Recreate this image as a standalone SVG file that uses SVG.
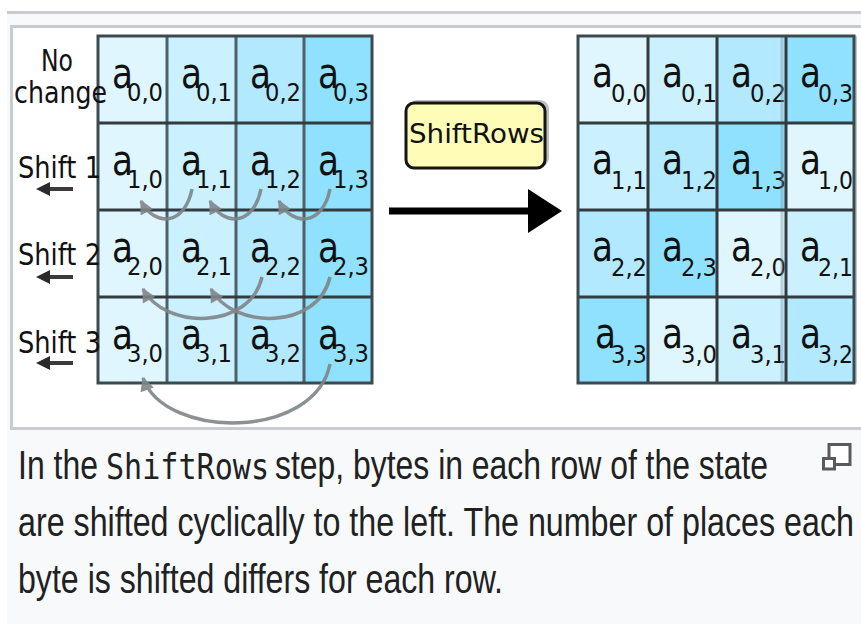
<svg xmlns="http://www.w3.org/2000/svg" width="861" height="624" viewBox="0 0 861 624">
<style>
.c0{fill:#e0f6fe}.c1{fill:#cbf0fe}.c2{fill:#b3e9fe}.c3{fill:#8fe1fd}
.a{font-family:"DejaVu Sans",sans-serif;font-size:42px;fill:#111}
.s{font-family:"DejaVu Sans",sans-serif;font-size:24px;fill:#111}
.lbl{font-family:"DejaVu Sans",sans-serif;font-size:31px;fill:#111}
.hl{stroke:#333b3e;stroke-width:3}
.vl{stroke:#4c6168;stroke-width:3}
.cap{font-family:"Liberation Sans",Arial,sans-serif;font-size:41px;fill:#202122}
.mono{font-family:"DejaVu Sans Mono","Liberation Mono",monospace;font-size:36px;fill:#202122}
.curve{fill:none;stroke:#7f8588;stroke-width:3.5;opacity:0.9;marker-end:url(#gh)}
</style>
<defs>
<marker id="gh" viewBox="0 0 10 10" refX="9" refY="5" markerWidth="15" markerHeight="14" markerUnits="userSpaceOnUse" orient="auto">
<path d="M0,0 L10,5 L0,10 z" fill="#7f8588"/>
</marker>
</defs>
<rect width="861" height="624" fill="#fff"/>
<rect x="7" y="11" width="860" height="620" fill="#f8f9fa"/>
<line x1="7" y1="12.5" x2="861" y2="12.5" stroke="#c8ccd1" stroke-width="3"/>
<rect x="11.5" y="26.5" width="870" height="402" fill="#fff" stroke="#c8ccd1" stroke-width="3"/>

<g id="left-grid">
<g id="L00"><rect class="c0" x="98" y="36" width="69" height="87"/><text class="a" x="112" y="88" textLength="21" lengthAdjust="spacingAndGlyphs">a</text><text class="s" x="127" y="101" textLength="36" lengthAdjust="spacingAndGlyphs">0,0</text></g>
<g id="L01"><rect class="c1" x="167" y="36" width="69" height="87"/><text class="a" x="181" y="88" textLength="21" lengthAdjust="spacingAndGlyphs">a</text><text class="s" x="196" y="101" textLength="36" lengthAdjust="spacingAndGlyphs">0,1</text></g>
<g id="L02"><rect class="c2" x="236" y="36" width="68" height="87"/><text class="a" x="250" y="88" textLength="21" lengthAdjust="spacingAndGlyphs">a</text><text class="s" x="265" y="101" textLength="36" lengthAdjust="spacingAndGlyphs">0,2</text></g>
<g id="L03"><rect class="c3" x="304" y="36" width="68" height="87"/><text class="a" x="318" y="88" textLength="21" lengthAdjust="spacingAndGlyphs">a</text><text class="s" x="333" y="101" textLength="36" lengthAdjust="spacingAndGlyphs">0,3</text></g>
<g id="L10"><rect class="c0" x="98" y="123" width="69" height="87"/><text class="a" x="112" y="175" textLength="21" lengthAdjust="spacingAndGlyphs">a</text><text class="s" x="127" y="188" textLength="36" lengthAdjust="spacingAndGlyphs">1,0</text></g>
<g id="L11"><rect class="c1" x="167" y="123" width="69" height="87"/><text class="a" x="181" y="175" textLength="21" lengthAdjust="spacingAndGlyphs">a</text><text class="s" x="196" y="188" textLength="36" lengthAdjust="spacingAndGlyphs">1,1</text></g>
<g id="L12"><rect class="c2" x="236" y="123" width="68" height="87"/><text class="a" x="250" y="175" textLength="21" lengthAdjust="spacingAndGlyphs">a</text><text class="s" x="265" y="188" textLength="36" lengthAdjust="spacingAndGlyphs">1,2</text></g>
<g id="L13"><rect class="c3" x="304" y="123" width="68" height="87"/><text class="a" x="318" y="175" textLength="21" lengthAdjust="spacingAndGlyphs">a</text><text class="s" x="333" y="188" textLength="36" lengthAdjust="spacingAndGlyphs">1,3</text></g>
<g id="L20"><rect class="c0" x="98" y="210" width="69" height="87"/><text class="a" x="112" y="262" textLength="21" lengthAdjust="spacingAndGlyphs">a</text><text class="s" x="127" y="275" textLength="36" lengthAdjust="spacingAndGlyphs">2,0</text></g>
<g id="L21"><rect class="c1" x="167" y="210" width="69" height="87"/><text class="a" x="181" y="262" textLength="21" lengthAdjust="spacingAndGlyphs">a</text><text class="s" x="196" y="275" textLength="36" lengthAdjust="spacingAndGlyphs">2,1</text></g>
<g id="L22"><rect class="c2" x="236" y="210" width="68" height="87"/><text class="a" x="250" y="262" textLength="21" lengthAdjust="spacingAndGlyphs">a</text><text class="s" x="265" y="275" textLength="36" lengthAdjust="spacingAndGlyphs">2,2</text></g>
<g id="L23"><rect class="c3" x="304" y="210" width="68" height="87"/><text class="a" x="318" y="262" textLength="21" lengthAdjust="spacingAndGlyphs">a</text><text class="s" x="333" y="275" textLength="36" lengthAdjust="spacingAndGlyphs">2,3</text></g>
<g id="L30"><rect class="c0" x="98" y="297" width="69" height="86"/><text class="a" x="112" y="349" textLength="21" lengthAdjust="spacingAndGlyphs">a</text><text class="s" x="127" y="362" textLength="36" lengthAdjust="spacingAndGlyphs">3,0</text></g>
<g id="L31"><rect class="c1" x="167" y="297" width="69" height="86"/><text class="a" x="181" y="349" textLength="21" lengthAdjust="spacingAndGlyphs">a</text><text class="s" x="196" y="362" textLength="36" lengthAdjust="spacingAndGlyphs">3,1</text></g>
<g id="L32"><rect class="c2" x="236" y="297" width="68" height="86"/><text class="a" x="250" y="349" textLength="21" lengthAdjust="spacingAndGlyphs">a</text><text class="s" x="265" y="362" textLength="36" lengthAdjust="spacingAndGlyphs">3,2</text></g>
<g id="L33"><rect class="c3" x="304" y="297" width="68" height="86"/><text class="a" x="318" y="349" textLength="21" lengthAdjust="spacingAndGlyphs">a</text><text class="s" x="333" y="362" textLength="36" lengthAdjust="spacingAndGlyphs">3,3</text></g>
<g id="left-lines">
<line class="vl" x1="167" y1="36" x2="167" y2="383"/><line class="vl" x1="236" y1="36" x2="236" y2="383"/><line class="vl" x1="304" y1="36" x2="304" y2="383"/>
<line class="hl" x1="98" y1="123" x2="372" y2="123"/><line class="hl" x1="98" y1="210" x2="372" y2="210"/><line class="hl" x1="98" y1="297" x2="372" y2="297"/>
<rect x="98" y="36" width="274" height="347" fill="none" stroke="#3c4a4f" stroke-width="3"/>
</g>
</g>

<g id="row-labels">
<g id="lbl-nochange"><text class="lbl" x="41" y="71" textLength="32" lengthAdjust="spacingAndGlyphs">No</text><text class="lbl" x="14" y="103" textLength="93" lengthAdjust="spacingAndGlyphs">change</text></g>
<g id="lbl-shift1"><text class="lbl" x="18" y="178" textLength="83" lengthAdjust="spacingAndGlyphs">Shift 1</text></g>
<g id="lbl-shift2"><text class="lbl" x="18" y="265" textLength="83" lengthAdjust="spacingAndGlyphs">Shift 2</text></g>
<g id="lbl-shift3"><text class="lbl" x="18" y="353" textLength="83" lengthAdjust="spacingAndGlyphs">Shift 3</text></g>
</g>

<g id="shiftrows-box">
<rect x="408" y="100" width="141" height="67" rx="9" fill="#8a8a8a" opacity="0.55"/>
<rect x="406" y="103" width="139" height="65" rx="8" fill="#fefcb6"/>
<text x="409" y="143" font-family="DejaVu Sans,sans-serif" font-size="27" fill="#111" textLength="135" lengthAdjust="spacingAndGlyphs">ShiftRows</text>
<rect x="406" y="103" width="139" height="65" rx="8" fill="none" stroke="#151515" stroke-width="3"/>
</g>

<g id="right-grid">
<g id="R00"><rect class="c0" x="578" y="36" width="70" height="87"/><text class="a" x="592" y="87" textLength="21" lengthAdjust="spacingAndGlyphs">a</text><text class="s" x="611" y="102" textLength="36" lengthAdjust="spacingAndGlyphs">0,0</text></g>
<g id="R01"><rect class="c1" x="648" y="36" width="69" height="87"/><text class="a" x="662" y="87" textLength="21" lengthAdjust="spacingAndGlyphs">a</text><text class="s" x="681" y="102" textLength="36" lengthAdjust="spacingAndGlyphs">0,1</text></g>
<g id="R02"><rect class="c2" x="717" y="36" width="69" height="87"/><text class="a" x="731" y="87" textLength="21" lengthAdjust="spacingAndGlyphs">a</text><text class="s" x="750" y="102" textLength="36" lengthAdjust="spacingAndGlyphs">0,2</text></g>
<g id="R03"><rect class="c3" x="786" y="36" width="68" height="87"/><text class="a" x="800" y="87" textLength="21" lengthAdjust="spacingAndGlyphs">a</text><text class="s" x="818" y="102" textLength="35" lengthAdjust="spacingAndGlyphs">0,3</text></g>
<g id="R10"><rect class="c1" x="578" y="123" width="70" height="87"/><text class="a" x="592" y="174" textLength="21" lengthAdjust="spacingAndGlyphs">a</text><text class="s" x="611" y="189" textLength="36" lengthAdjust="spacingAndGlyphs">1,1</text></g>
<g id="R11"><rect class="c2" x="648" y="123" width="69" height="87"/><text class="a" x="662" y="174" textLength="21" lengthAdjust="spacingAndGlyphs">a</text><text class="s" x="681" y="189" textLength="36" lengthAdjust="spacingAndGlyphs">1,2</text></g>
<g id="R12"><rect class="c3" x="717" y="123" width="69" height="87"/><text class="a" x="731" y="174" textLength="21" lengthAdjust="spacingAndGlyphs">a</text><text class="s" x="750" y="189" textLength="36" lengthAdjust="spacingAndGlyphs">1,3</text></g>
<g id="R13"><rect class="c0" x="786" y="123" width="68" height="87"/><text class="a" x="800" y="174" textLength="21" lengthAdjust="spacingAndGlyphs">a</text><text class="s" x="818" y="189" textLength="35" lengthAdjust="spacingAndGlyphs">1,0</text></g>
<g id="R20"><rect class="c2" x="578" y="210" width="70" height="87"/><text class="a" x="592" y="261" textLength="21" lengthAdjust="spacingAndGlyphs">a</text><text class="s" x="611" y="276" textLength="36" lengthAdjust="spacingAndGlyphs">2,2</text></g>
<g id="R21"><rect class="c3" x="648" y="210" width="69" height="87"/><text class="a" x="662" y="261" textLength="21" lengthAdjust="spacingAndGlyphs">a</text><text class="s" x="681" y="276" textLength="36" lengthAdjust="spacingAndGlyphs">2,3</text></g>
<g id="R22"><rect class="c0" x="717" y="210" width="69" height="87"/><text class="a" x="731" y="261" textLength="21" lengthAdjust="spacingAndGlyphs">a</text><text class="s" x="750" y="276" textLength="36" lengthAdjust="spacingAndGlyphs">2,0</text></g>
<g id="R23"><rect class="c1" x="786" y="210" width="68" height="87"/><text class="a" x="800" y="261" textLength="21" lengthAdjust="spacingAndGlyphs">a</text><text class="s" x="818" y="276" textLength="35" lengthAdjust="spacingAndGlyphs">2,1</text></g>
<g id="R30"><rect class="c3" x="578" y="297" width="70" height="86"/><text class="a" x="595" y="348" textLength="21" lengthAdjust="spacingAndGlyphs">a</text><text class="s" x="611" y="363" textLength="36" lengthAdjust="spacingAndGlyphs">3,3</text></g>
<g id="R31"><rect class="c0" x="648" y="297" width="69" height="86"/><text class="a" x="662" y="348" textLength="21" lengthAdjust="spacingAndGlyphs">a</text><text class="s" x="681" y="363" textLength="36" lengthAdjust="spacingAndGlyphs">3,0</text></g>
<g id="R32"><rect class="c1" x="717" y="297" width="69" height="86"/><text class="a" x="731" y="348" textLength="21" lengthAdjust="spacingAndGlyphs">a</text><text class="s" x="750" y="363" textLength="36" lengthAdjust="spacingAndGlyphs">3,1</text></g>
<g id="R33"><rect class="c2" x="786" y="297" width="68" height="86"/><text class="a" x="800" y="348" textLength="21" lengthAdjust="spacingAndGlyphs">a</text><text class="s" x="818" y="363" textLength="35" lengthAdjust="spacingAndGlyphs">3,2</text></g>
<g id="right-lines">
<line x1="782" y1="36" x2="782" y2="383" stroke="#7c9aa5" stroke-width="3" opacity="0.4"/>
<line x1="855" y1="36" x2="855" y2="383" stroke="#7c9aa5" stroke-width="4" opacity="0.5"/>
<line class="hl" x1="648" y1="36" x2="648" y2="383"/><line class="hl" x1="717" y1="36" x2="717" y2="383"/><line class="hl" x1="786" y1="36" x2="786" y2="383"/>
<line class="hl" x1="578" y1="123" x2="854" y2="123"/><line class="hl" x1="578" y1="210" x2="854" y2="210"/><line class="hl" x1="578" y1="297" x2="854" y2="297"/>
<rect x="578" y="36" width="276" height="347" fill="none" stroke="#3c4a4f" stroke-width="3"/>
</g>
</g>

<g id="connectors">
<path class="curve" d="M192,189 C185,225 155,228 141,201"/>
<path class="curve" d="M261,189 C254,225 224,228 210,201"/>
<path class="curve" d="M330,189 C323,225 293,228 279,201"/>
<path class="curve" d="M262,277 C250,330 165,330 143,289"/>
<path class="curve" d="M330,277 C318,330 233,330 211,289"/>
<path class="curve" d="M330,364 C315,440 165,440 143,378"/>
<g fill="#2a2a2a">
<line x1="48" y1="189" x2="73" y2="189" stroke="#3a3a3a" stroke-width="4"/><path d="M36,189 L50,182 L50,196 z"/>
<line x1="48" y1="277" x2="73" y2="277" stroke="#3a3a3a" stroke-width="4"/><path d="M36,277 L50,270 L50,284 z"/>
<line x1="48" y1="363" x2="73" y2="363" stroke="#3a3a3a" stroke-width="4"/><path d="M36,363 L50,356 L50,370 z"/>
</g>
<line x1="389" y1="211" x2="530" y2="211" stroke="#000" stroke-width="7"/>
<path d="M528,189 L562,211 L528,233 z" fill="#000"/>
</g>

<g id="caption">
<text class="cap" x="18" y="479" textLength="80" lengthAdjust="spacingAndGlyphs">In the</text>
<text class="mono" x="106" y="479" textLength="163" lengthAdjust="spacingAndGlyphs">ShiftRows</text>
<text class="cap" x="275" y="479" textLength="493" lengthAdjust="spacingAndGlyphs">step, bytes in each row of the state</text>
<text class="cap" x="18" y="536" textLength="836" lengthAdjust="spacingAndGlyphs">are shifted cyclically to the left. The number of places each</text>
<text class="cap" x="18" y="593" textLength="485" lengthAdjust="spacingAndGlyphs">byte is shifted differs for each row.</text>
<g id="enlarge-icon" fill="#fff" stroke="#5a5a5a" stroke-width="3">
<rect x="829" y="444.5" width="21" height="20"/>
<rect x="823.5" y="458.5" width="11" height="10.5"/>
</g>
</g>
</svg>
